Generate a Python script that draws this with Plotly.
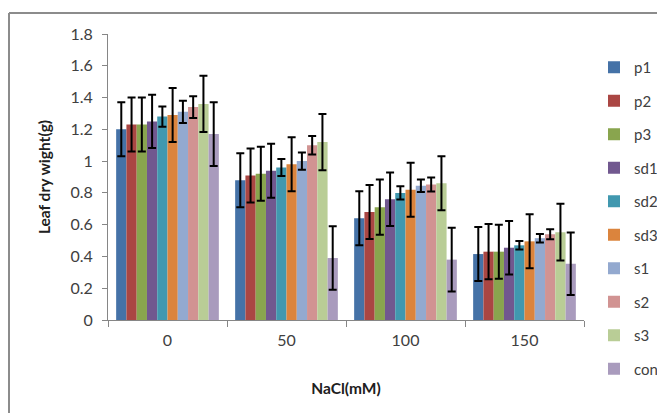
import plotly.graph_objects as go

categories = ["0", "50", "100", "150"]
series_names = ["p1", "p2", "p3", "sd1", "sd2", "sd3", "s1", "s2", "s3", "con"]

p1 = [1.20, 0.88, 0.64, 0.415]
p2 = [1.23, 0.91, 0.68, 0.43]
p3 = [1.23, 0.92, 0.71, 0.43]
sd1 = [1.25, 0.94, 0.76, 0.455]
sd2 = [1.28, 0.96, 0.80, 0.47]
sd3 = [1.29, 0.98, 0.82, 0.495]
s1 = [1.31, 1.00, 0.845, 0.515]
s2 = [1.34, 1.10, 0.853, 0.54]
s3 = [1.36, 1.12, 0.86, 0.553]
con = [1.17, 0.39, 0.38, 0.354]

p1_err = [0.17, 0.17, 0.17, 0.17]
p2_err = [0.17, 0.17, 0.17, 0.174]
p3_err = [0.17, 0.17, 0.174, 0.17]
sd1_err = [0.167, 0.17, 0.168, 0.168]
sd2_err = [0.063, 0.053, 0.042, 0.027]
sd3_err = [0.17, 0.17, 0.17, 0.17]
s1_err = [0.07, 0.054, 0.04, 0.027]
s2_err = [0.068, 0.058, 0.044, 0.031]
s3_err = [0.177, 0.177, 0.17, 0.178]
con_err = [0.2, 0.2, 0.2, 0.197]

values = [p1, p2, p3, sd1, sd2, sd3, s1, s2, s3, con]
errors = [p1_err, p2_err, p3_err, sd1_err, sd2_err, sd3_err, s1_err, s2_err, s3_err, con_err]
colors = ["#4572A7", "#AA4643", "#89A54E", "#71588F", "#4198AF",
          "#DB843D", "#93A9CF", "#D19392", "#B9CD96", "#A99BBD"]

y_ticks = [0, 0.2, 0.4, 0.6, 0.8, 1.0, 1.2, 1.4, 1.6, 1.8]
y_tick_labels = ["0", "0.2", "0.4", "0.6", "0.8", "1", "1.2", "1.4", "1.6", "1.8"]

FONT = "Lato, 'Open Sans', sans-serif"

fig = go.Figure()
for name, vals, errs, col in zip(series_names, values, errors, colors):
    fig.add_trace(go.Bar(
        name=name, x=categories, y=vals, legendgroup=name,
        marker=dict(color=col, line=dict(width=0)),
        error_y=dict(type="data", array=errs, visible=True,
                     color="black", thickness=2, width=4),
    ))

# the page body has an 8px default margin; layout is computed in window pixels
OFF = 8
W, H = 700, 413 - OFF
L, R, T = 108 - OFF, 0, 34 - OFF
B = H - (320 - OFF)
PLOT_RIGHT = 584 - OFF
pw, ph = W - L - R, H - T - B

def px_x(px):
    return (px - OFF - L) / pw

def px_y(py):
    return (H - B - (py - OFF)) / ph

fig.update_layout(
    width=W, height=H,
    margin=dict(l=L, r=R, t=T, b=B, autoexpand=False),
    paper_bgcolor="white", plot_bgcolor="white",
    barmode="group", bargap=0.137, bargroupgap=0,
    font=dict(family=FONT, size=15, color="#404040"),
    showlegend=True,
    legend=dict(x=px_x(594), xanchor="left", y=px_y(51), yanchor="top",
                font=dict(size=15, color="#404040"),
                tracegroupgap=11.0, itemwidth=30, maxheight=400,
                bgcolor="rgba(0,0,0,0)"),
    xaxis=dict(
        domain=[0, (PLOT_RIGHT - L) / pw], automargin=False,
        type="category", showline=True, linecolor="#868686", linewidth=1,
        ticks="outside", tickson="boundaries", ticklen=6, tickcolor="#868686",
        ticklabelstandoff=6,
        showgrid=False, tickfont=dict(size=16, color="#404040"),
        title=dict(text="<b>NaCl(mM)</b>", font=dict(size=15.5, color="#202020"), standoff=34),
    ),
    yaxis=dict(
        range=[0, 1.8], tickvals=y_ticks, ticktext=y_tick_labels, automargin=False,
        showline=True, linecolor="#868686", linewidth=1,
        ticks="outside", ticklen=5, tickcolor="#868686",
        ticklabelstandoff=6,
        showgrid=False, zeroline=False, tickfont=dict(size=16, color="#404040"),
        title=dict(text="<b>Leaf dry wight(g)</b>", font=dict(size=15.5, color="#202020"), standoff=16),
    ),
    shapes=[
        dict(type="line", xref="paper", yref="paper",
             x0=px_x(9), x1=px_x(720), y0=px_y(13), y1=px_y(13),
             line=dict(color="#8C8C8C", width=2)),
        dict(type="line", xref="paper", yref="paper",
             x0=px_x(9), x1=px_x(9), y0=px_y(13), y1=px_y(450),
             line=dict(color="#8C8C8C", width=2)),
    ],
)

fig.write_html("out.html")
